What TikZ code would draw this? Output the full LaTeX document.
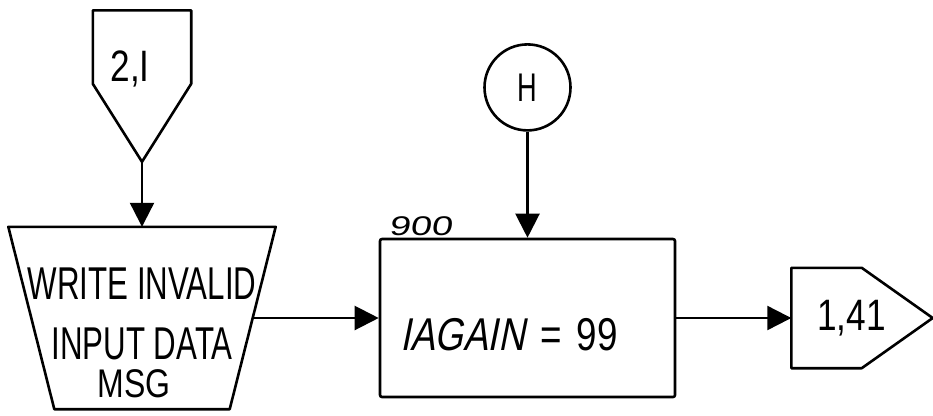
\documentclass[tikz,border=0pt]{standalone}
\usepackage{fontspec}
\setmainfont{Liberation Sans}
\newfontfamily\handfont[FakeStretch=0.8]{Liberation Sans}
\newfontfamily\narrowhand[FakeStretch=0.68]{Liberation Sans}
\newfontfamily\slanthand[FakeStretch=0.8, FakeSlant=0.2]{Liberation Sans}
\newfontfamily\widehand[FakeStretch=1.4, FakeSlant=0.15]{Liberation Sans}
\usetikzlibrary{positioning, arrows.meta}

\begin{document}
\begin{tikzpicture}[
  x=1pt, y=-1pt,
  outline/.style={draw=black, line width=2.6pt, line join=round},
  frame/.style={rectangle, inner sep=0pt},
  offpage/.style={frame, font=\handfont\fontsize{44}{44}\selectfont},
  iobox/.style={frame, minimum width=267pt, minimum height=182pt,
                align=center, text height=158pt, text depth=0pt,
                font=\narrowhand\fontsize{46}{60}\selectfont},
  procbox/.style={outline, rectangle, rounded corners=2pt,
                  minimum width=295pt, minimum height=158pt,
                  text width=255pt, inner xsep=20pt, align=left,
                  text height=64pt, text depth=0pt,
                  font=\handfont\fontsize{46}{46}\selectfont},
  onpage/.style={outline, circle, minimum size=86pt, inner sep=0pt,
                 font=\narrowhand\fontsize{40}{40}\selectfont},
  arrow/.style={-{Triangle[length=24pt, width=24pt]}, line width=2.2pt},
  node distance=65pt and 103pt
]
\useasboundingbox (0,0) rectangle (933,415);
\fill[white] (0,0) rectangle (933,415);

% Row 2 - main line
\node[procbox,
      label={[anchor=south west, xshift=8pt, inner sep=2pt,
              font=\widehand\fontsize{27}{27}\selectfont]north west:900}]
      (box) at (527.5,318) {{\slanthand IAGAIN} = 99};
\node[iobox, left=of box] (msg)
      {WRITE INVALID\\INPUT DATA\\[-22pt]{\handfont\fontsize{40}{40}\selectfont MSG\hspace*{16pt}}};
\node[offpage, minimum width=141pt, minimum height=100pt,
      right=115pt of box] (exit) {1,41\hspace*{21pt}};

% Row 1 - connectors in
\node[offpage, minimum width=98pt, minimum height=151pt,
      text height=30pt, text depth=39pt,
      above=of msg] (entry) {2,I\hspace*{24pt}};
\node[onpage, above=106pt of box] (H) {H};

% Outlines of the odd shapes
\draw[outline] (msg.north west) -- (msg.north east)
  -- ([xshift=-46pt]msg.south east) -- ([xshift=46pt]msg.south west) -- cycle;
\draw[outline] (exit.north west) -- ([xshift=-71pt]exit.north east)
  -- (exit.east) -- ([xshift=-71pt]exit.south east) -- (exit.south west) -- cycle;
\draw[outline] (entry.north west) -- (entry.north east)
  -- ([yshift=78pt]entry.south east) -- (entry.south)
  -- ([yshift=78pt]entry.south west) -- cycle;

% Arrows
\draw[arrow] (entry.south) -- (msg.north);
\draw[arrow] (H) -- (box);
\draw[arrow] ([xshift=-23pt]msg.east) -- (box);
\draw[arrow] (box) -- (exit.west);

\end{tikzpicture}
\end{document}
